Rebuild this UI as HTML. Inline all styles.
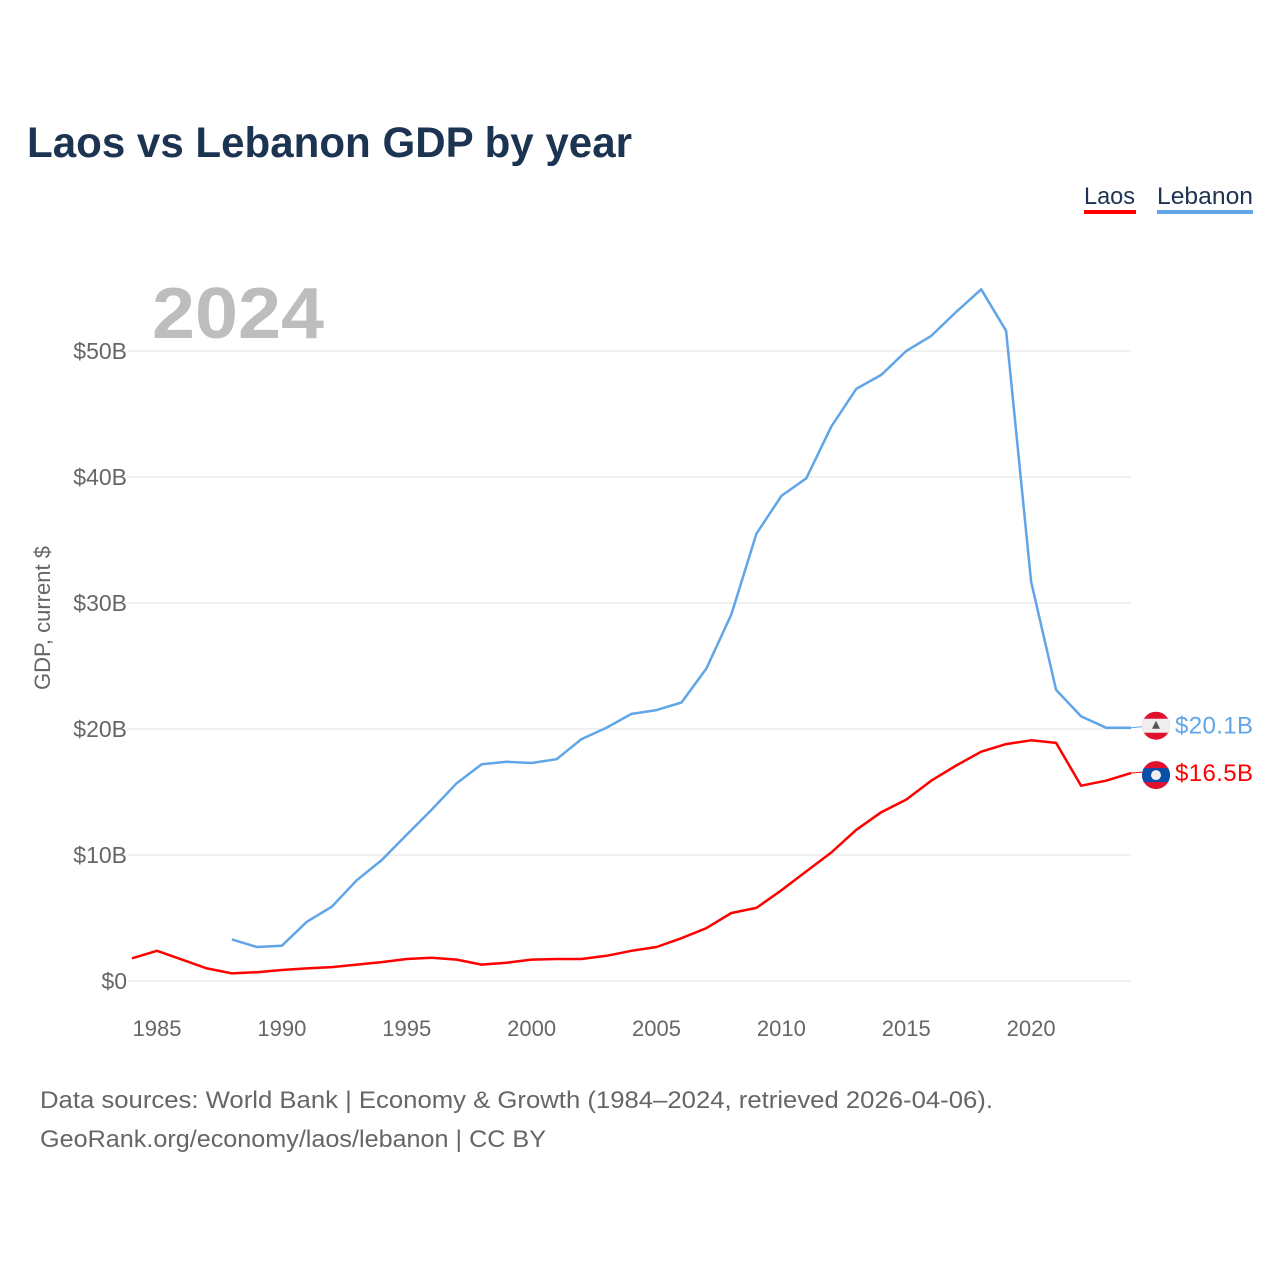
<!DOCTYPE html>
<html><head><meta charset="utf-8"><style>
body{margin:0;background:#fff;font-family:"Liberation Sans",sans-serif}
svg text{font-family:"Liberation Sans",sans-serif}
</style></head><body>
<svg id="chart" width="1280" height="1280">
<text x="27" y="157" font-size="43" font-weight="bold" fill="#1c3351" textLength="605" lengthAdjust="spacingAndGlyphs">Laos vs Lebanon GDP by year</text>
<g>
<text x="1084" y="204" font-size="24" fill="#1c3351" textLength="51" lengthAdjust="spacingAndGlyphs">Laos</text>
<rect x="1084" y="210" width="52" height="4" fill="#ff0000"/>
<text x="1157" y="204" font-size="24" fill="#1c3351" textLength="96" lengthAdjust="spacingAndGlyphs">Lebanon</text>
<rect x="1157" y="210" width="96" height="4" fill="#60a5e8"/>
</g>
<text x="152" y="338" font-size="72" font-weight="bold" fill="#bdbdbd" textLength="172" lengthAdjust="spacingAndGlyphs">2024</text>
<text transform="translate(50,618) rotate(-90)" text-anchor="middle" font-size="22" fill="#666">GDP, current $</text>
<g id="grid"></g><g id="lines"></g><g id="labels"></g>
<text x="40" y="1108" font-size="24" fill="#666" textLength="953" lengthAdjust="spacingAndGlyphs">Data sources: World Bank | Economy &amp; Growth (1984–2024, retrieved 2026-04-06).</text>
<text x="40" y="1147" font-size="24" fill="#666" textLength="506" lengthAdjust="spacingAndGlyphs">GeoRank.org/economy/laos/lebanon | CC BY</text>
</svg>
<script>
const years=[];for(let y=1984;y<=2024;y++)years.push(y);
const laos=[1.8,2.4,1.7,1.0,0.6,0.7,0.87,1.0,1.1,1.3,1.5,1.75,1.85,1.7,1.3,1.45,1.7,1.75,1.75,2.0,2.4,2.7,3.4,4.2,5.4,5.8,7.2,8.7,10.2,12.0,13.4,14.4,15.9,17.1,18.2,18.8,19.1,18.9,15.5,15.9,16.5];
const lebanonYears=[];for(let y=1988;y<=2024;y++)lebanonYears.push(y);
const lebanon=[3.3,2.7,2.8,4.7,5.9,8.0,9.6,11.6,13.6,15.7,17.2,17.4,17.3,17.6,19.2,20.1,21.2,21.5,22.1,24.8,29.1,35.5,38.5,39.9,44.0,47.0,48.1,50.0,51.2,53.1,54.9,51.6,31.7,23.1,21.0,20.1,20.1];
const yTicks=[0,10,20,30,40,50];
const xTicks=[1985,1990,1995,2000,2005,2010,2015,2020];
const NS="http://www.w3.org/2000/svg";
const X=y=>132+(y-1984)*(999/40);
const Y=v=>981-v*12.6;
function mk(tag,attrs,parent){const e=document.createElementNS(NS,tag);for(const k in attrs)e.setAttribute(k,attrs[k]);parent.appendChild(e);return e;}
const grid=document.getElementById('grid');
yTicks.forEach(t=>{
 const l=mk('line',{x1:128,x2:1131,y1:Y(t),y2:Y(t),stroke:'#ebebeb','stroke-width':1.5},grid);
 
 
 const tx=mk('text',{x:127,y:Y(t)+8,'text-anchor':'end','font-size':23,fill:'#666'},grid);
 tx.textContent='$'+t+(t?'B':'');
 
 
});
xTicks.forEach(t=>{
 const tx=mk('text',{x:X(t),y:1036,'text-anchor':'middle','font-size':22,fill:'#666'},grid);
 tx.textContent=t;
 
 
});
const lines=document.getElementById('lines');
function pts(xs,vs){return vs.map((v,i)=>X(xs[i]).toFixed(1)+','+Y(v).toFixed(1)).join(' ');}
const lb=mk('polyline',{points:pts(lebanonYears,lebanon),fill:'none',stroke:'#60a5e8','stroke-width':2.5,'stroke-linejoin':'round'},lines);


const la=mk('polyline',{points:pts(years,laos),fill:'none',stroke:'#ff0000','stroke-width':2.5,'stroke-linejoin':'round'},lines);


const labels=document.getElementById('labels');
const lbV=lebanon[lebanon.length-1],laV=laos[laos.length-1];
mk('line',{x1:X(2024),x2:1142,y1:Y(lbV),y2:Y(lbV)-1,stroke:'#60a5e8','stroke-width':1},labels);
mk('line',{x1:X(2024),x2:1142,y1:Y(laV),y2:Y(laV)-1,stroke:'#ff0000','stroke-width':1},labels);
const fy1=Y(lbV)-2;
const g1=mk('g',{},labels);


const cp1=mk('clipPath',{id:'c1'},g1);mk('circle',{cx:1156,cy:fy1,r:14},cp1);
const gc1=mk('g',{'clip-path':'url(#c1)'},g1);
mk('rect',{x:1140,y:fy1-15,width:32,height:30,fill:'#e0102e'},gc1);
mk('rect',{x:1140,y:fy1-7,width:32,height:14,fill:'#eeeeee'},gc1);
mk('polygon',{points:`1156,${fy1-5} 1160,${fy1+3} 1152,${fy1+3}`,fill:'#555'},gc1);
const t1=mk('text',{x:1175,y:Y(lbV)+6,'font-size':24,fill:'#60a5e8'},labels);
t1.textContent='$'+lbV.toFixed(1)+'B';
t1.setAttribute('textLength','78');


const fy2=Y(laV)+2;
const g2=mk('g',{},labels);


const cp=mk('clipPath',{id:'c2'},g2);mk('circle',{cx:1156,cy:fy2,r:14},cp);
const gc2=mk('g',{'clip-path':'url(#c2)'},g2);
mk('rect',{x:1140,y:fy2-15,width:32,height:30,fill:'#e0102e'},gc2);
mk('rect',{x:1140,y:fy2-7,width:32,height:14,fill:'#0a4fa8'},gc2);
mk('circle',{cx:1156,cy:fy2,r:5,fill:'#eee'},gc2);
const t2=mk('text',{x:1175,y:Y(laV)+8,'font-size':24,fill:'#ff0000'},labels);
t2.textContent='$'+laV.toFixed(1)+'B';
t2.setAttribute('textLength','78');


</script>
</body></html>
